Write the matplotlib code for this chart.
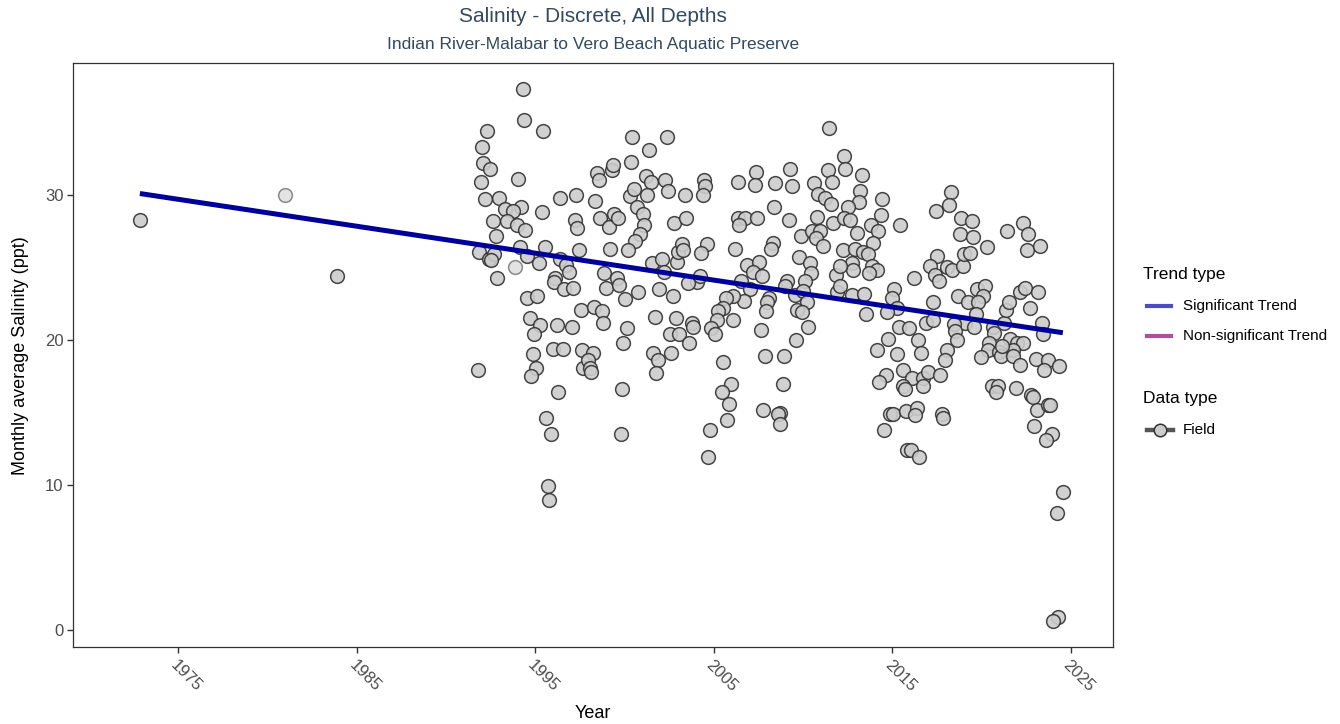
import matplotlib
matplotlib.use('Agg')
import matplotlib.pyplot as plt
from matplotlib.lines import Line2D

# Monthly average salinity (field, discrete, all depths)
years = [
    1972.85, 1983.89,
    1994.29, 1994.37, 1995.45, 1992.28, 1992.03, 1992.09, 1992.46, 1991.96, 1994.03, 1992.18,
    1992.95, 1993.30, 1994.18, 1993.77, 1992.61, 1993.40, 1993.99, 1994.44, 1992.78, 1995.38,
    1996.38, 1997.28, 1998.36, 1997.21, 1997.35, 1998.62, 1999.11, 1999.41, 1999.63, 1999.20,
    1998.44, 1998.55, 1999.28, 1999.37, 2000.36, 2000.43, 2001.37, 2002.36, 2000.29, 2000.53,
    2001.18, 2001.46, 2001.27, 2002.28, 2002.45, 2000.68, 2001.02, 2001.11, 2000.87, 2000.60,
    2000.21, 2002.79, 1991.86, 1992.39, 1992.69, 1992.54, 1994.14, 1994.55, 1995.54, 1995.21,
    1992.87, 1996.38, 1996.72, 1996.87, 1997.43, 1996.12, 1996.05, 1996.61, 1997.13, 1998.85,
    1999.56, 1998.96, 1999.71, 2000.04, 2000.77, 2001.54, 2002.11, 2002.21, 2001.95, 2002.70,
    2002.92, 2003.01, 1994.55, 1995.11, 1994.70, 1995.26, 1994.93, 1996.20, 1997.06, 1997.54,
    1998.29, 1998.74, 1998.78, 2000.12, 1999.93, 2001.71, 2002.55, 2002.88, 1994.85, 1995.97,
    1996.54, 1997.60, 1998.22, 2001.61, 2002.59,
    1995.04, 1994.76, 1997.67, 1997.95, 1998.06, 1998.12, 2001.87, 2001.76, 1991.79, 1996.27,
    1999.86, 1995.60, 1995.88, 1999.80, 1995.71, 1995.77, 2003.05,
    2011.44, 2012.29, 2012.35, 2011.38, 2009.27, 2007.36, 2006.36, 2007.29, 2008.43, 2009.36,
    2010.61, 2011.61, 2010.85, 2011.23, 2011.55, 2004.45, 2004.52, 2004.38, 2003.37, 2008.37,
    2009.21, 2010.76, 2006.34, 2006.75, 2007.44, 2006.43, 2003.44, 2009.87, 2010.48, 2010.95,
    2010.73, 2011.10, 2008.33, 2008.20, 2006.19, 2004.60, 2004.27, 2003.20, 2003.29, 2009.76,
    2010.39, 2010.45, 2010.13, 2009.12, 2008.99, 2009.53, 2010.01, 2010.20, 2009.64, 2009.94,
    2006.86, 2007.55, 2007.21, 2007.70, 2006.51, 2007.03, 2008.08, 2008.00, 2007.92, 2007.63,
    2006.69, 2006.09, 2005.68, 2005.50, 2005.25, 2005.20, 2006.06, 2004.84, 2005.07, 2004.08,
    2003.57, 2004.23, 2003.76, 2003.85, 2003.63, 2005.53, 2007.87, 2008.93, 2009.61, 2010.29,
    2011.69, 2011.85, 2011.89,
    2005.95, 2005.44, 2005.85, 2005.76, 2004.77, 2004.69, 2008.86, 2007.77, 2008.71, 2008.60,
    2008.71,
    2013.29, 2013.19, 2014.44, 2014.35, 2013.12, 2012.54, 2012.30, 2012.63, 2013.79, 2014.22,
    2013.04, 2013.94, 2015.43, 2012.25, 2012.91, 2013.34, 2013.66, 2012.73, 2012.82, 2012.07,
    2013.88, 2014.13, 2013.71, 2012.07, 2012.73, 2013.43, 2013.53, 2015.11, 2014.97, 2015.25,
    2014.69, 2016.22, 2017.28, 2016.89, 2017.26, 2015.36, 2015.95, 2014.78, 2014.13, 2015.28,
    2016.44, 2016.61, 2015.62, 2014.63, 2014.27, 2016.10, 2016.70, 2017.02, 2017.67, 2016.74,
    2015.58, 2017.45, 2018.27, 2018.19, 2018.85, 2019.46, 2018.78, 2019.54, 2020.29, 2017.52,
    2017.11, 2017.39, 2017.62, 2018.08, 2018.36, 2018.94, 2019.03, 2019.35, 2018.68, 2019.22,
    2019.73, 2020.19, 2020.06, 2019.82, 2019.69, 2019.09, 2019.59, 2018.46, 2018.51, 2018.61,
    2018.05, 2017.97, 2020.62, 2020.70, 2020.43, 2020.38, 2019.95, 2020.99, 2021.07, 2021.27,
    2021.35, 2021.54, 2022.15, 2022.45, 2023.18, 2022.70, 2021.44, 2022.34, 2022.62, 2022.53,
    2023.27, 2021.59, 2021.97, 2022.31, 2021.74, 2021.78, 2022.15, 2023.05, 2023.71, 2023.52,
    2024.36, 2023.37, 2023.43, 2020.57, 2020.94, 2021.93,
    2015.71, 2014.87, 2015.02, 2015.77, 2016.37, 2016.29, 2017.77, 2017.86, 2014.53, 2015.84,
    2016.05, 2016.51, 2021.13, 2020.79, 2022.75, 2022.87, 2023.12, 2023.74, 2023.83, 2022.96,
    2023.95, 2023.61, 2024.55, 2024.21, 2024.30, 2024.02,
]
salinity = [
    28.3, 24.4,
    37.3, 35.2, 34.4, 34.4, 33.3, 32.2, 31.8, 30.9, 31.1, 29.7,
    29.8, 29.0, 29.2, 28.9, 28.2, 28.2, 27.9, 27.6, 27.2, 28.8,
    29.8, 30.0, 29.6, 28.3, 27.7, 28.4, 27.8, 28.7, 28.4, 26.3,
    31.5, 31.0, 31.7, 32.1, 32.3, 34.0, 33.1, 34.0, 29.9, 30.4,
    31.3, 30.9, 30.0, 31.0, 30.3, 29.2, 28.7, 27.9, 27.3, 26.8,
    26.2, 28.1, 26.1, 25.6, 25.9, 25.5, 26.4, 25.8, 26.4, 25.3,
    24.3, 25.6, 25.2, 24.7, 26.2, 24.3, 24.0, 23.5, 23.6, 24.6,
    24.3, 23.6, 23.8, 22.8, 23.3, 25.3, 25.6, 24.7, 23.5, 23.0,
    25.4, 26.1, 22.9, 23.0, 21.5, 21.0, 20.4, 21.0, 20.9, 22.1,
    22.3, 22.0, 21.2, 20.8, 19.8, 21.6, 20.4, 21.5, 19.0, 19.4,
    19.4, 19.3, 19.1, 19.1, 19.1,
    18.1, 17.5, 18.1, 18.6, 18.1, 17.8, 18.6, 17.7, 17.9, 16.4,
    16.6, 14.6, 13.5, 13.5, 9.9, 9.0, 20.4,
    34.6, 32.7, 31.8, 31.7, 31.8, 31.6, 30.9, 30.7, 30.8, 30.6,
    30.8, 30.9, 30.1, 29.8, 29.4, 31.0, 30.6, 30.0, 30.0, 29.2,
    28.3, 28.5, 28.4, 28.4, 28.4, 27.9, 28.4, 27.2, 27.5, 27.5,
    27.0, 26.5, 26.7, 26.3, 26.3, 26.6, 26.0, 26.6, 26.2, 25.7,
    25.3, 24.6, 24.1, 24.1, 23.7, 23.1, 23.4, 22.6, 22.1, 21.9,
    25.2, 25.4, 24.7, 24.4, 24.1, 23.5, 22.9, 22.6, 22.0, 20.7,
    22.7, 23.0, 22.9, 22.2, 22.0, 21.4, 21.4, 20.8, 20.4, 24.0,
    23.9, 24.4, 21.2, 20.9, 19.8, 18.5, 18.9, 18.9, 20.0, 20.9,
    28.1, 24.5, 23.3,
    17.0, 16.4, 15.6, 14.5, 13.8, 11.9, 17.0, 15.2, 15.0, 14.9,
    14.2,
    31.4, 30.3, 29.7, 28.6, 29.5, 29.2, 28.4, 28.3, 27.9, 27.5,
    27.4, 26.7, 27.9, 26.2, 26.3, 26.1, 25.9, 25.3, 24.8, 25.1,
    25.1, 24.8, 24.6, 23.7, 23.1, 23.2, 21.8, 23.5, 22.9, 22.2,
    21.9, 24.3, 22.6, 21.2, 21.4, 20.9, 20.8, 20.1, 19.3, 19.0,
    20.0, 19.1, 17.9, 17.6, 17.1, 17.4, 17.4, 17.8, 17.6, 16.8,
    16.8, 28.9, 30.2, 29.3, 28.4, 28.2, 27.3, 27.1, 26.4, 25.8,
    25.1, 24.5, 24.1, 25.0, 24.8, 25.1, 25.9, 26.0, 23.0, 22.6,
    23.5, 23.7, 23.0, 22.6, 21.8, 21.2, 20.9, 21.1, 20.6, 20.0,
    19.3, 18.6, 20.9, 20.5, 19.8, 19.3, 18.8, 19.2, 18.9, 21.2,
    22.1, 22.6, 23.3, 23.6, 23.3, 22.2, 27.5, 28.1, 27.3, 26.2,
    26.5, 20.1, 19.8, 19.8, 19.3, 18.9, 18.3, 18.7, 18.6, 17.9,
    18.2, 21.2, 20.4, 16.8, 16.8, 16.7,
    16.6, 14.9, 14.9, 15.1, 15.3, 14.8, 14.9, 14.6, 13.8, 12.4,
    12.4, 11.9, 19.6, 16.4, 16.2, 16.1, 15.2, 15.5, 15.5, 14.1,
    13.5, 13.1, 9.5, 8.1, 0.9, 0.6,
]
# points drawn paler in the original
faint_years = [1980.98, 1993.88]
faint_salinity = [30.0, 25.0]

# Significant trend line end points
trend_years = [1972.85, 2024.55]
trend_salinity = [30.1, 20.5]

x_ticks = [1975, 1985, 1995, 2005, 2015, 2025]
y_ticks = [0, 10, 20, 30]

W, H = 1340, 724
plt.rcParams['font.family'] = ['Liberation Sans', 'DejaVu Sans']
fig = plt.figure(figsize=(W / 100, H / 100), dpi=100)


def fx(px):
    return px / W


def fy(py):
    return 1 - py / H


left, right, top, bottom = 73.3, 1113, 63, 647.3
ax = fig.add_axes([fx(left), fy(bottom), (right - left) / W, (bottom - top) / H])

ax.scatter(faint_years, faint_salinity, s=98, c='#CCCCCC', edgecolors='#333333',
           linewidths=1.1, alpha=0.55, zorder=3)
ax.scatter(years, salinity, s=98, c='#CCCCCC', edgecolors='#333333',
           linewidths=1.1, alpha=0.9, zorder=3)
ax.plot(trend_years, trend_salinity, color='#000099', linewidth=3.6,
        solid_capstyle='butt', zorder=4)

ax.set_xlim(1969.12, 2027.36)
ax.set_ylim(-1.19, 39.1)
ax.set_xticks(x_ticks)
ax.set_xticklabels([str(t) for t in x_ticks], rotation=-45, ha='left', va='top',
                   rotation_mode='anchor')
ax.set_yticks(y_ticks)
ax.tick_params(axis='both', colors='#333333', labelcolor='#4D4D4D',
               labelsize=12, length=4, width=1)
ax.tick_params(axis='x', pad=3)
ax.tick_params(axis='y', pad=3)
for sp in ax.spines.values():
    sp.set_color('#333333')
    sp.set_linewidth(0.9)

ax.set_xlabel('Year', fontsize=13, labelpad=8)
ax.set_ylabel('Monthly average Salinity (ppt)', fontsize=13, labelpad=11.5)

title_color = '#34495E'
fig.text(fx((left + right) / 2), fy(17), 'Salinity - Discrete, All Depths',
         ha='center', va='center', fontsize=15, color=title_color)
fig.text(fx((left + right) / 2), fy(45),
         'Indian River-Malabar to Vero Beach Aquatic Preserve',
         ha='center', va='center', fontsize=12.5, color=title_color)

# legends, drawn by hand in figure pixels
fig.text(fx(1143), fy(274), 'Trend type', ha='left', va='center', fontsize=12.5)
legend_items = [('Significant Trend', '#4B4BC4', 306),
                ('Non-significant Trend', '#B04E9E', 336)]
for label, color, ypix in legend_items:
    fig.add_artist(Line2D([fx(1147), fx(1171)], [fy(ypix), fy(ypix)],
                          transform=fig.transFigure, color=color, linewidth=3))
    fig.text(fx(1183), fy(ypix), label, ha='left', va='center', fontsize=11)

fig.text(fx(1143), fy(398), 'Data type', ha='left', va='center', fontsize=12.5)
fig.add_artist(Line2D([fx(1147), fx(1173)], [fy(430), fy(430)],
                      transform=fig.transFigure, color='#444444', linewidth=3.2,
                      alpha=0.9))
fig.add_artist(Line2D([fx(1160)], [fy(430)], transform=fig.transFigure,
                      marker='o', markersize=9, markerfacecolor='#CCCCCC',
                      markeredgecolor='#333333', markeredgewidth=1.1,
                      linestyle='none'))
fig.text(fx(1183), fy(430), 'Field', ha='left', va='center', fontsize=11)

fig.savefig('out.png', dpi=100)
